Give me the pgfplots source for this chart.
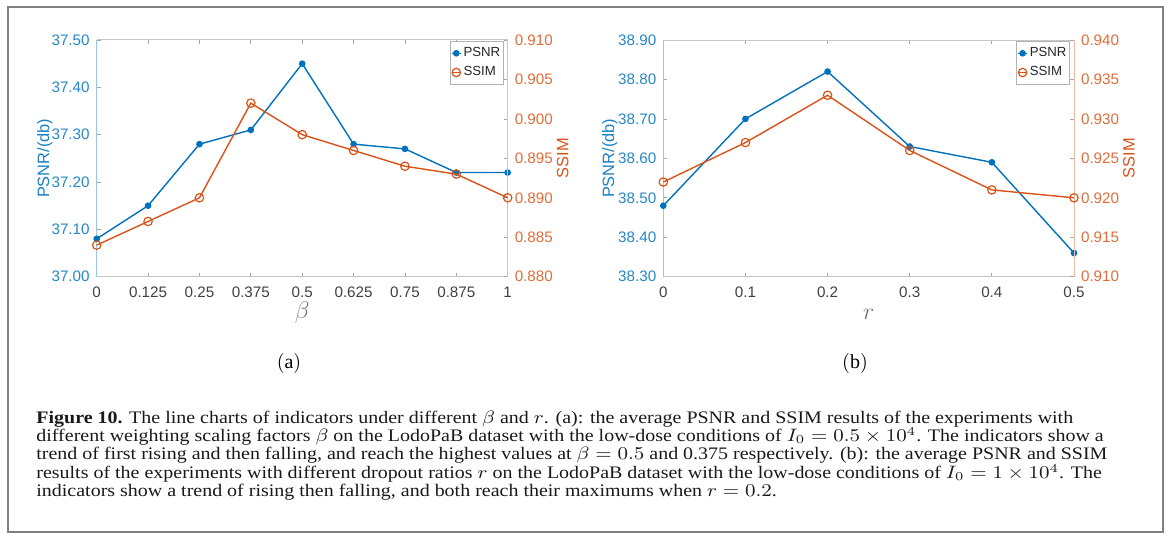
\documentclass[border=0pt]{standalone}
\usepackage{fontspec}
\setmainfont{Liberation Serif}
\setsansfont{Liberation Sans}
\usepackage{pgfplots}
\pgfplotsset{compat=1.18}
\definecolor{mblue}{RGB}{0,114,189}
\definecolor{morange}{RGB}{217,83,25}
\newcommand\tenfour{10^{\raisebox{-0.8pt}{$\scriptstyle 4$}}}

\pgfplotsset{
  panel/.style={
    scale only axis, anchor=south west,
    width=205.5pt, height=118.35pt,
    tick align=inside, major tick length=2pt,
    /pgf/number format/assume math mode=true,
    ticklabel style={font=\sffamily\fontsize{7.6}{9}\selectfont},
    every tick/.style={black!35, line width=0.4pt},
  },
  leftside/.style={
    panel, separate axis lines,
    x axis line style={black!22, line width=0.5pt},
    y axis line style={mblue!40!white, line width=0.5pt},
    xtick pos=both, ytick pos=left,
    xticklabel style={text=black!75, yshift=-1.6pt},
    yticklabel style={text=mblue!85!white,
      /pgf/number format/.cd, fixed, fixed zerofill, precision=2},
    ylabel style={font=\sffamily\fontsize{8.2}{10}\selectfont, text=mblue!90!white, anchor=center},
    xlabel style={font=\fontsize{12}{14}\selectfont, text=black!55, anchor=center},
  },
  rightside/.style={
    panel, axis y line*=right, axis x line=none,
    y axis line style={morange!40!white, line width=0.5pt},
    yticklabel style={text=morange!85!white,
      /pgf/number format/.cd, fixed, fixed zerofill, precision=3},
    ylabel style={font=\sffamily\fontsize{8.2}{10}\selectfont, text=morange, anchor=center},
    legend style={draw=black!30, line width=0.4pt, fill=white,
      font=\sffamily\fontsize{6.6}{7.5}\selectfont, text=black!85,
      inner xsep=0.5pt, inner ysep=0.8pt, row sep=-0.5pt,
      nodes={inner xsep=1pt}, cells={anchor=west},
      anchor=north east, at={(0.99,0.995)}},
    legend image code/.code={\draw[mark repeat=2,mark phase=2,##1] plot coordinates {(0cm,0cm) (0.08cm,0cm) (0.16cm,0cm)};},
  },
  psnr/.style={color=mblue, line width=0.7pt, mark=*, mark size=1.3pt},
  ssim/.style={color=morange, line width=0.7pt, mark=o, mark size=2.1pt, mark options={line width=0.6pt}},
}

\begin{document}
\begin{tikzpicture}
\useasboundingbox (0,0) rectangle (584pt,-269.5pt);
\draw[black!50, line width=0.75pt] (4pt,-3.6pt) rectangle (581.6pt,-266pt);

% (a) weighting factor beta
\begin{axis}[leftside, at={(48.35pt,-138.35pt)},
  xmin=0, xmax=1, ymin=37, ymax=37.5,
  xtick={0,0.125,0.25,0.375,0.5,0.625,0.75,0.875,1},
  xticklabels={0,0.125,0.25,0.375,0.5,0.625,0.75,0.875,1},
  ytick={37,37.1,37.2,37.3,37.4,37.5},
  ylabel={PSNR/(db)}, ylabel style={at={(axis description cs:-0.126,0.5)}},
  xlabel={$\beta$}, xlabel style={at={(axis description cs:0.5,-0.153)}},
]
\addplot[psnr] coordinates {
  (0,37.08) (0.125,37.15) (0.25,37.28) (0.375,37.31) (0.5,37.45)
  (0.625,37.28) (0.75,37.27) (0.875,37.22) (1,37.22)
};
\end{axis}
\begin{axis}[rightside, at={(48.35pt,-138.35pt)},
  xmin=0, xmax=1, ymin=0.88, ymax=0.91,
  ytick={0.88,0.885,0.89,0.895,0.9,0.905,0.91},
  ylabel={SSIM}, ylabel style={at={(axis description cs:1.134,0.5)}},
]
\addlegendimage{psnr}
\addlegendentry{PSNR}
\addplot[ssim] coordinates {
  (0,0.884) (0.125,0.887) (0.25,0.890) (0.375,0.902) (0.5,0.898)
  (0.625,0.896) (0.75,0.894) (0.875,0.893) (1,0.890)
};
\addlegendentry{SSIM}
\end{axis}

% (b) dropout ratio r
\begin{axis}[leftside, at={(331.65pt,-138.35pt)}, width=205.35pt,
  xmin=0, xmax=0.5, ymin=38.3, ymax=38.9,
  xtick={0,0.1,0.2,0.3,0.4,0.5},
  xticklabels={0,0.1,0.2,0.3,0.4,0.5},
  ytick={38.3,38.4,38.5,38.6,38.7,38.8,38.9},
  ylabel={PSNR/(db)}, ylabel style={at={(axis description cs:-0.13,0.5)}},
  xlabel={$r$}, xlabel style={at={(axis description cs:0.5,-0.16)}},
]
\addplot[psnr] coordinates {
  (0,38.48) (0.1,38.70) (0.2,38.82) (0.3,38.63) (0.4,38.59) (0.5,38.36)
};
\end{axis}
\begin{axis}[rightside, at={(331.65pt,-138.35pt)}, width=205.35pt,
  xmin=0, xmax=0.5, ymin=0.91, ymax=0.94,
  ytick={0.91,0.915,0.92,0.925,0.93,0.935,0.94},
  ylabel={SSIM}, ylabel style={at={(axis description cs:1.134,0.5)}},
]
\addlegendimage{psnr}
\addlegendentry{PSNR}
\addplot[ssim] coordinates {
  (0,0.922) (0.1,0.927) (0.2,0.933) (0.3,0.926) (0.4,0.921) (0.5,0.920)
};
\addlegendentry{SSIM}
\end{axis}

\node[font=\fontsize{10}{12}\selectfont] at (144.5pt,-182pt) {$(\mathrm{a})$};
\node[font=\fontsize{10}{12}\selectfont] at (427.5pt,-182pt) {$(\mathrm{b})$};

\begin{scope}[every node/.style={anchor=base west, inner sep=0pt, font=\fontsize{8.8}{9}\selectfont, text=black!90}]
\node at (18pt,-211.65pt) {\scalebox{1.135}[1]{\textbf{Figure 10.} The line charts of indicators under different $\beta$ and $r$. (a): the average PSNR and SSIM results of the experiments with}};
\node at (18pt,-220.8pt) {\scalebox{1.135}[1]{different weighting scaling factors $\beta$ on the LodoPaB dataset with the low-dose conditions of $\smash{I_0 = 0.5\times\tenfour}$. The indicators show a}};
\node at (18pt,-229.95pt) {\scalebox{1.135}[1]{trend of first rising and then falling, and reach the highest values at $\beta = 0.5$ and 0.375 respectively. (b): the average PSNR and SSIM}};
\node at (18pt,-239.1pt) {\scalebox{1.135}[1]{results of the experiments with different dropout ratios $r$ on the LodoPaB dataset with the low-dose conditions of $\smash{I_0 = 1\times\tenfour}$. The}};
\node at (18pt,-248.25pt) {\scalebox{1.135}[1]{indicators show a trend of rising then falling, and both reach their maximums when $r = 0.2$.}};
\end{scope}
\end{tikzpicture}
\end{document}
